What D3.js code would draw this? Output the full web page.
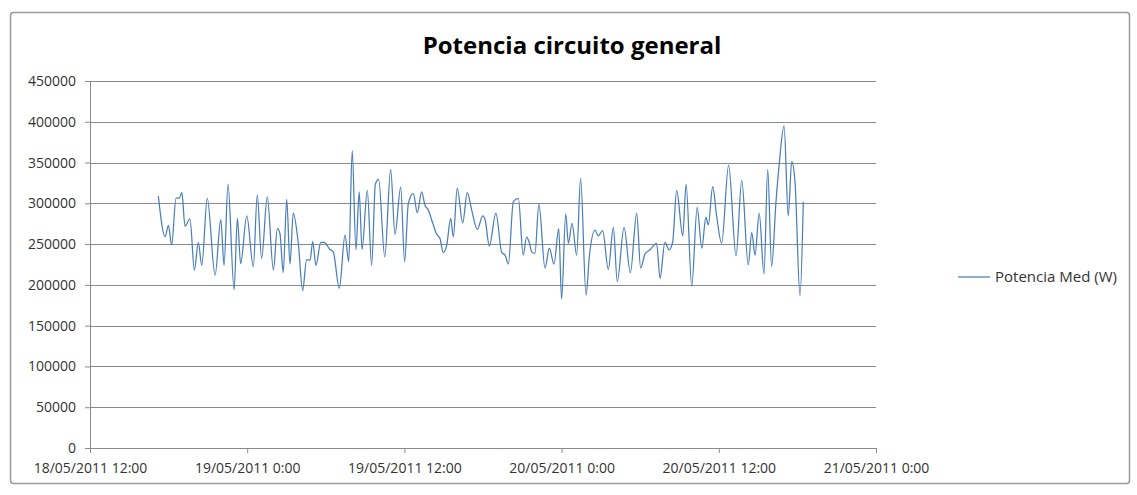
<!DOCTYPE html>
<html>
<head>
<meta charset="utf-8">
<script src="https://cdn.jsdelivr.net/npm/d3@7"></script>
<style>
  body { margin: 0; background: #fff; }
  text { font-family: "Open Sans", "Noto Sans", sans-serif; }
</style>
</head>
<body>
<div id="chart-area"></div>
<script>
// timestamps of the readings (dd/mm/yyyy hh:mm)
var times = [
  "18/05/2011 17:13", "18/05/2011 17:44", "18/05/2011 17:59", "18/05/2011 18:14", "18/05/2011 18:34",
  "18/05/2011 18:49", "18/05/2011 19:01", "18/05/2011 19:15", "18/05/2011 19:38", "18/05/2011 19:58",
  "18/05/2011 20:16", "18/05/2011 20:32", "18/05/2011 20:57", "18/05/2011 21:33", "18/05/2011 21:59",
  "18/05/2011 22:14", "18/05/2011 22:32", "18/05/2011 23:00", "18/05/2011 23:15", "18/05/2011 23:30",
  "18/05/2011 23:58", "19/05/2011 0:28", "19/05/2011 0:46", "19/05/2011 1:06", "19/05/2011 1:32",
  "19/05/2011 2:00", "19/05/2011 2:18", "19/05/2011 2:30", "19/05/2011 2:45", "19/05/2011 3:01",
  "19/05/2011 3:16", "19/05/2011 3:31", "19/05/2011 3:54", "19/05/2011 4:14", "19/05/2011 4:32",
  "19/05/2011 4:48", "19/05/2011 5:00", "19/05/2011 5:15", "19/05/2011 5:37", "19/05/2011 5:52",
  "19/05/2011 6:19", "19/05/2011 6:34", "19/05/2011 7:02", "19/05/2011 7:28", "19/05/2011 7:45",
  "19/05/2011 8:01", "19/05/2011 8:18", "19/05/2011 8:33", "19/05/2011 8:46", "19/05/2011 9:10",
  "19/05/2011 9:30", "19/05/2011 9:47", "19/05/2011 10:02", "19/05/2011 10:30", "19/05/2011 10:57",
  "19/05/2011 11:17", "19/05/2011 11:43", "19/05/2011 12:01", "19/05/2011 12:18", "19/05/2011 12:41",
  "19/05/2011 12:59", "19/05/2011 13:19", "19/05/2011 13:34", "19/05/2011 13:49", "19/05/2011 14:10",
  "19/05/2011 14:28", "19/05/2011 14:43", "19/05/2011 14:58", "19/05/2011 15:14", "19/05/2011 15:32",
  "19/05/2011 15:44", "19/05/2011 16:02", "19/05/2011 16:27", "19/05/2011 16:48", "19/05/2011 17:08",
  "19/05/2011 17:34", "19/05/2011 17:59", "19/05/2011 18:10", "19/05/2011 18:29", "19/05/2011 18:59",
  "19/05/2011 19:26", "19/05/2011 19:41", "19/05/2011 19:56", "19/05/2011 20:19", "19/05/2011 20:42",
  "19/05/2011 21:04", "19/05/2011 21:20", "19/05/2011 21:32", "19/05/2011 21:43", "19/05/2011 21:58",
  "19/05/2011 22:16", "19/05/2011 22:44", "19/05/2011 23:04", "19/05/2011 23:25", "19/05/2011 23:47",
  "20/05/2011 0:00", "20/05/2011 0:19", "20/05/2011 0:31", "20/05/2011 0:48", "20/05/2011 1:09",
  "20/05/2011 1:27", "20/05/2011 1:52", "20/05/2011 2:07", "20/05/2011 2:33", "20/05/2011 2:48",
  "20/05/2011 3:08", "20/05/2011 3:34", "20/05/2011 3:57", "20/05/2011 4:15", "20/05/2011 4:46",
  "20/05/2011 5:15", "20/05/2011 5:44", "20/05/2011 6:02", "20/05/2011 6:22", "20/05/2011 6:45",
  "20/05/2011 7:15", "20/05/2011 7:31", "20/05/2011 7:53", "20/05/2011 8:13", "20/05/2011 8:29",
  "20/05/2011 8:47", "20/05/2011 9:15", "20/05/2011 9:30", "20/05/2011 9:56", "20/05/2011 10:21",
  "20/05/2011 10:42", "20/05/2011 11:01", "20/05/2011 11:12", "20/05/2011 11:32", "20/05/2011 11:50",
  "20/05/2011 12:13", "20/05/2011 12:45", "20/05/2011 13:19", "20/05/2011 13:45", "20/05/2011 14:15",
  "20/05/2011 14:31", "20/05/2011 14:46", "20/05/2011 15:05", "20/05/2011 15:27", "20/05/2011 15:44",
  "20/05/2011 16:02", "20/05/2011 16:22", "20/05/2011 16:37", "20/05/2011 16:59", "20/05/2011 17:18",
  "20/05/2011 17:34", "20/05/2011 17:49", "20/05/2011 18:12", "20/05/2011 18:27"
];

// Potencia Med (W)
var potencia = [
  309000, 259000, 273000, 249000, 306500,
  306500, 313000, 272000, 281000, 218000,
  252000, 224000, 306000, 212000, 280000,
  224000, 323500, 194000, 281500, 226000,
  284500, 222000, 310000, 232500, 308000,
  218000, 269000, 263000, 215000, 305000,
  225500, 288000, 251000, 193000, 231000,
  230500, 253000, 224000, 252000, 252000,
  243500, 240500, 196000, 261000, 228500,
  364500, 243000, 314000, 243500, 316000,
  224000, 323500, 329500, 234500, 341500,
  262000, 320000, 228500, 300000, 312000,
  288500, 314000, 298000, 292000, 275500,
  262000, 257000, 239500, 249000, 281500,
  259000, 318500, 276000, 313000, 292000,
  268000, 284500, 279500, 247500, 288000,
  239500, 236500, 225500, 302000, 306000,
  236500, 258500, 252000, 240500, 238500,
  299000, 220500, 245000, 225500, 269000,
  182500, 287000, 251000, 275500, 236500,
  330500, 187500, 234500, 267000, 260000,
  266500, 219000, 270500, 204000, 270500,
  215000, 288000, 220500, 238000, 243000,
  251000, 208000, 252000, 243000, 253000,
  316000, 260000, 323500, 198500, 295000,
  245000, 283000, 273500, 320500, 284500,
  251000, 347000, 235500, 328000, 224500,
  264000, 236500, 288000, 213500, 341500,
  222500, 302000, 349000, 395000, 284500,
  351000, 326500, 186500, 302000
];

var seriesName = "Potencia Med (W)";
var chartTitle = "Potencia circuito general";
var yTicks = [0, 50000, 100000, 150000, 200000, 250000, 300000, 350000, 400000, 450000];
var xTicks = ["18/05/2011 12:00", "19/05/2011 0:00", "19/05/2011 12:00",
              "20/05/2011 0:00", "20/05/2011 12:00", "21/05/2011 0:00"];

var parseTime = d3.timeParse("%d/%m/%Y %H:%M");
var fmtTick = function(d) {
  return d3.timeFormat("%d/%m/%Y ")(d) + d.getHours() + d3.timeFormat(":%M")(d);
};

var data = times.map(function(t, i) {
  return { date: parseTime(t), value: potencia[i] };
});

var svg = d3.select("#chart-area")
  .append("svg")
  .attr("width", 1137)
  .attr("height", 495);

// chart frame
svg.append("rect")
  .attr("x", 10.5)
  .attr("y", 12.5)
  .attr("width", 1119)
  .attr("height", 471)
  .attr("rx", 3)
  .attr("fill", "#fff")
  .attr("stroke", "#9a9a9a")
  .attr("stroke-width", 1.5);

var margin = { top: 81, left: 90 };
var width = 786;
var height = 367;

var g = svg.append("g")
  .attr("transform", "translate(" + margin.left + "," + margin.top + ")");

var x = d3.scaleTime()
  .domain([parseTime(xTicks[0]), parseTime(xTicks[xTicks.length - 1])])
  .range([0, width]);

var y = d3.scaleLinear()
  .domain([0, 450000])
  .range([height, 0]);

// gridlines
g.selectAll(".grid")
  .data(yTicks.slice(1))
  .enter()
  .append("line")
  .attr("x1", 0)
  .attr("x2", width)
  .attr("y1", function(d) { return Math.round(y(d)) + 0.5; })
  .attr("y2", function(d) { return Math.round(y(d)) + 0.5; })
  .attr("stroke", "#8a8a8a")
  .attr("stroke-width", 1);

var yAxis = g.append("g")
  .call(d3.axisLeft(y).tickValues(yTicks).tickSize(5).tickPadding(9).tickFormat(d3.format("d")));

var xAxis = g.append("g")
  .attr("transform", "translate(0," + height + ")")
  .call(d3.axisBottom(x).tickValues(xTicks.map(parseTime)).tickSize(5).tickPadding(10).tickFormat(fmtTick));

[yAxis, xAxis].forEach(function(ax) {
  ax.select(".domain").attr("stroke", "#8a8a8a");
  ax.selectAll(".tick line").attr("stroke", "#8a8a8a");
  ax.selectAll("text")
    .attr("fill", "#333")
    .style("font-family", "'Open Sans', sans-serif")
    .style("font-size", "14px");
});

var line = d3.line()
  .x(function(d) { return x(d.date); })
  .y(function(d) { return y(d.value); })
  .curve(d3.curveMonotoneX);

g.append("path")
  .datum(data)
  .attr("fill", "none")
  .attr("stroke", "#4a7ebb")
  .attr("stroke-width", 1.25)
  .attr("d", line);

// title
svg.append("text")
  .attr("x", 572)
  .attr("y", 54)
  .attr("text-anchor", "middle")
  .attr("font-weight", "bold")
  .attr("font-size", 24)
  .attr("fill", "#000")
  .text(chartTitle);

// legend
var legend = svg.append("g").attr("transform", "translate(958,277)");
legend.append("line")
  .attr("x1", 0).attr("x2", 32)
  .attr("y1", 0).attr("y2", 0)
  .attr("stroke", "#4a7ebb")
  .attr("stroke-width", 1.25);
legend.append("text")
  .attr("x", 37)
  .attr("y", 5)
  .attr("font-size", 15)
  .attr("fill", "#333")
  .text(seriesName);
</script>
</body>
</html>
